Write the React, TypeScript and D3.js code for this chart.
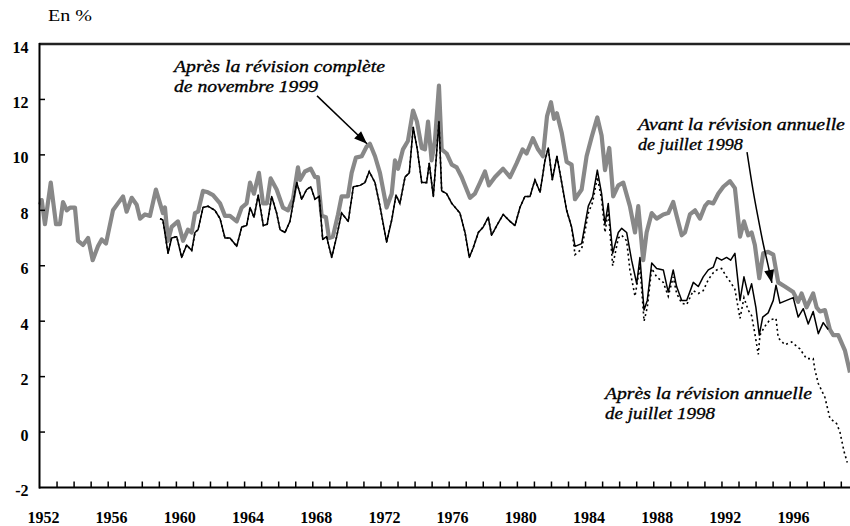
import React from 'react';
import * as d3 from 'd3';

type Pt = [number, number];

const yTickValues = [-2, 0, 2, 4, 6, 8, 10, 12, 14];
const xLabelYears = [1952, 1956, 1960, 1964, 1968, 1972, 1976, 1980, 1984, 1988, 1992, 1996];

// Après la révision complète de novembre 1999 (gray)
const completeRevision: Pt[] = [
  [1951.80,8.2],[1951.90,8.37],[1952.09,7.5],[1952.43,9.0],[1952.74,7.5],[1952.97,7.5],[1953.15,8.3],[1953.37,8.0],[1953.56,8.1],[1953.85,8.1],
  [1954.03,6.9],[1954.32,6.75],[1954.62,7.0],[1954.89,6.2],[1955.20,6.7],[1955.42,6.95],[1955.67,6.8],[1956.08,8.0],[1956.37,8.25],[1956.67,8.5],
  [1956.88,7.95],[1957.18,8.45],[1957.47,8.2],[1957.67,7.7],[1957.96,7.85],[1958.25,7.8],[1958.60,8.75],[1958.84,8.25],[1959.01,7.9],[1959.13,8.1],
  [1959.31,6.9],[1959.52,7.4],[1959.89,7.6],[1960.19,6.9],[1960.48,7.3],[1960.70,7.2],[1960.89,7.9],[1961.07,7.95],[1961.36,8.7],[1961.65,8.65],
  [1961.95,8.55],[1962.36,8.25],[1962.65,7.8],[1962.94,7.8],[1963.34,7.6],[1963.63,8.1],[1963.92,8.25],[1964.12,9.0],[1964.35,8.6],[1964.64,9.35],
  [1964.88,8.25],[1965.11,8.25],[1965.33,9.15],[1965.68,8.75],[1966.05,8.1],[1966.35,8.0],[1966.64,8.4],[1966.93,9.55],[1967.05,9.1],[1967.34,9.4],
  [1967.68,9.5],[1967.93,9.2],[1968.10,9.2],[1968.32,7.8],[1968.57,7.75],[1968.75,7.0],[1968.98,7.05],[1969.28,7.85],[1969.49,8.5],[1969.86,8.5],
  [1970.08,9.35],[1970.33,9.9],[1970.67,9.95],[1970.96,10.3],[1971.15,10.4],[1971.45,9.95],[1971.74,9.35],[1972.13,8.1],[1972.43,8.6],[1972.62,9.8],
  [1972.80,9.5],[1973.09,10.2],[1973.38,10.5],[1973.68,11.6],[1973.91,11.2],[1974.19,10.25],[1974.38,10.2],[1974.56,11.2],[1974.77,9.8],[1974.97,10.55],
  [1975.20,12.5],[1975.36,10.2],[1975.65,10.05],[1975.95,9.65],[1976.24,9.55],[1976.53,9.2],[1977.02,8.45],[1977.31,8.6],[1977.61,9.0],[1977.90,9.4],
  [1978.13,8.9],[1978.49,9.2],[1978.96,9.5],[1979.37,9.2],[1979.76,9.7],[1980.11,10.2],[1980.34,10.05],[1980.71,10.6],[1981.01,10.2],[1981.30,9.95],
  [1981.54,11.4],[1981.77,11.9],[1981.95,11.3],[1982.12,11.5],[1982.40,10.8],[1982.69,9.75],[1982.98,9.65],[1983.18,8.4],[1983.57,8.75],[1983.86,9.95],
  [1984.16,10.65],[1984.49,11.35],[1984.74,10.7],[1984.94,9.45],[1985.19,10.25],[1985.42,8.5],[1985.72,8.9],[1986.01,9.0],[1986.40,8.15],[1986.70,7.2],
  [1986.89,8.15],[1987.18,6.2],[1987.38,7.2],[1987.68,7.9],[1987.97,7.7],[1988.36,7.85],[1988.65,7.9],[1988.94,8.3],[1989.14,7.8],[1989.44,7.1],
  [1989.63,7.2],[1989.92,7.85],[1990.22,8.0],[1990.51,7.7],[1990.80,8.15],[1991.00,8.3],[1991.29,8.25],[1991.58,8.6],[1991.88,8.85],[1992.27,9.05],
  [1992.56,8.8],[1992.86,7.05],[1993.09,7.6],[1993.34,7.1],[1993.54,7.2],[1993.73,6.75],[1993.99,5.55],[1994.22,6.45],[1994.51,6.5],[1994.81,6.4],
  [1995.10,5.4],[1995.49,5.25],[1995.98,5.05],[1996.27,4.7],[1996.47,5.0],[1996.76,4.5],[1997.15,5.0],[1997.35,4.5],[1997.55,4.35],[1997.84,4.4],
  [1998.13,3.7],[1998.33,3.5],[1998.62,3.5],[1999.01,2.95],[1999.31,2.15],
];

// Avant la révision annuelle de juillet 1998 (solid black)
const beforeAnnual: Pt[] = [
  [1958.84,7.7],[1959.01,7.65],[1959.31,6.45],[1959.52,7.0],[1959.82,7.05],[1960.11,6.3],[1960.40,6.75],[1960.70,6.55],[1960.89,7.2],[1961.07,7.3],
  [1961.36,8.1],[1961.65,8.15],[1962.06,8.0],[1962.36,7.7],[1962.65,7.0],[1962.94,7.0],[1963.34,6.7],[1963.63,7.4],[1963.92,7.45],[1964.12,8.1],
  [1964.35,7.75],[1964.60,8.55],[1964.90,7.45],[1965.13,7.5],[1965.39,8.5],[1965.68,7.9],[1965.88,7.3],[1966.17,7.2],[1966.46,7.6],[1966.86,9.0],
  [1967.15,8.4],[1967.44,8.75],[1967.68,8.85],[1967.93,8.4],[1968.18,8.5],[1968.38,6.95],[1968.61,7.05],[1968.91,6.3],[1969.20,7.05],[1969.49,7.9],
  [1969.88,7.6],[1970.18,8.85],[1970.57,8.9],[1970.86,9.0],[1971.11,9.4],[1971.45,9.0],[1971.74,8.15],[1972.13,6.85],[1972.43,7.65],[1972.68,8.55],
  [1972.91,8.25],[1973.21,9.2],[1973.46,9.35],[1973.69,11.0],[1973.93,10.2],[1974.19,9.0],[1974.48,9.0],[1974.63,9.7],[1974.87,8.5],[1975.20,11.2],
  [1975.36,8.7],[1975.65,8.6],[1975.95,8.25],[1976.43,7.9],[1976.73,7.2],[1976.98,6.3],[1977.21,6.65],[1977.51,7.2],[1977.80,7.4],[1978.09,7.75],
  [1978.29,7.1],[1978.59,7.45],[1978.97,7.85],[1979.37,7.6],[1979.66,7.45],[1979.95,8.1],[1980.24,8.5],[1980.54,8.5],[1980.83,9.1],[1981.13,8.65],
  [1981.42,9.8],[1981.61,10.25],[1981.85,9.1],[1982.12,9.95],[1982.40,9.0],[1982.69,8.0],[1982.98,7.4],[1983.18,6.7],[1983.57,6.8],[1983.96,8.15],
  [1984.22,8.5],[1984.49,9.45],[1984.74,8.6],[1984.94,7.5],[1985.13,8.25],[1985.39,6.45],[1985.72,7.2],[1985.92,7.35],[1986.21,7.2],[1986.50,6.2],
  [1986.80,5.35],[1986.99,6.3],[1987.23,4.4],[1987.42,4.75],[1987.68,6.1],[1987.97,5.9],[1988.36,5.85],[1988.65,5.05],[1988.94,5.85],[1989.14,5.25],
  [1989.44,4.75],[1989.73,4.75],[1990.12,5.4],[1990.41,5.25],[1990.70,5.6],[1991.00,5.85],[1991.29,5.95],[1991.49,6.3],[1991.78,6.2],[1992.07,6.3],
  [1992.31,6.2],[1992.56,6.45],[1992.86,4.75],[1993.09,5.6],[1993.34,4.95],[1993.54,5.35],[1993.79,4.5],[1993.99,3.5],[1994.19,4.15],[1994.51,4.3],
  [1994.81,4.75],[1994.97,5.3],[1995.20,4.65],[1995.59,4.75],[1995.98,4.85],[1996.27,4.15],[1996.57,4.45],[1996.86,3.9],[1997.15,4.35],[1997.45,3.55],
  [1997.74,3.95],[1998.03,3.7],
];

// Après la révision annuelle de juillet 1998 (dotted black)
const afterAnnual: Pt[] = [
  [1958.84,7.7],[1959.01,7.65],[1959.31,6.45],[1959.52,7.0],[1959.82,7.05],[1960.11,6.3],[1960.40,6.75],[1960.70,6.55],[1960.89,7.2],[1961.07,7.3],
  [1961.36,8.1],[1961.65,8.15],[1962.06,8.0],[1962.36,7.7],[1962.65,7.0],[1962.94,7.0],[1963.34,6.7],[1963.63,7.4],[1963.92,7.45],[1964.12,8.1],
  [1964.35,7.75],[1964.60,8.55],[1964.90,7.45],[1965.13,7.5],[1965.39,8.5],[1965.68,7.9],[1965.88,7.3],[1966.17,7.2],[1966.46,7.6],[1966.86,9.0],
  [1967.15,8.4],[1967.44,8.75],[1967.68,8.85],[1967.93,8.4],[1968.18,8.5],[1968.38,6.95],[1968.61,7.05],[1968.91,6.3],[1969.20,7.05],[1969.49,7.9],
  [1969.88,7.6],[1970.18,8.85],[1970.57,8.9],[1970.86,9.0],[1971.11,9.4],[1971.45,9.0],[1971.74,8.15],[1972.13,6.85],[1972.43,7.65],[1972.68,8.55],
  [1972.91,8.25],[1973.21,9.2],[1973.46,9.35],[1973.69,11.0],[1973.93,10.2],[1974.19,9.0],[1974.48,9.0],[1974.63,9.7],[1974.87,8.5],[1975.20,11.2],
  [1975.36,8.7],[1975.65,8.6],[1975.95,8.25],[1976.43,7.9],[1976.73,7.2],[1976.98,6.3],[1977.21,6.65],[1977.51,7.2],[1977.80,7.4],[1978.09,7.75],
  [1978.29,7.1],[1978.59,7.45],[1978.97,7.85],[1979.37,7.6],[1979.66,7.45],[1979.95,8.1],[1980.24,8.5],[1980.54,8.5],[1980.83,9.1],[1981.13,8.65],
  [1981.42,9.8],[1981.61,10.25],[1981.85,9.1],[1982.12,9.95],[1982.40,9.0],[1982.69,8.0],[1982.98,7.4],[1983.18,6.4],[1983.57,6.6],[1983.96,7.9],
  [1984.22,8.3],[1984.49,9.2],[1984.74,8.4],[1984.94,7.2],[1985.13,8.0],[1985.39,6.0],[1985.72,7.0],[1985.92,7.1],[1986.21,6.9],[1986.40,5.85],
  [1986.70,4.9],[1986.99,6.0],[1987.23,4.0],[1987.42,4.5],[1987.68,5.9],[1987.97,5.6],[1988.36,5.4],[1988.65,4.9],[1988.94,5.6],[1989.14,5.0],
  [1989.44,4.65],[1989.73,4.6],[1990.12,5.1],[1990.41,5.0],[1990.70,5.1],[1991.00,5.5],[1991.29,5.75],[1991.49,5.85],[1991.78,5.9],[1992.07,5.6],
  [1992.31,5.4],[1992.56,5.15],[1992.86,4.1],[1993.09,4.85],[1993.34,4.4],[1993.54,4.2],[1993.73,3.55],[1993.93,2.8],[1994.03,3.5],[1994.30,3.8],
  [1994.61,4.05],[1994.97,4.1],[1995.10,3.4],[1995.49,3.15],[1995.89,3.25],[1996.37,3.0],[1996.76,2.65],[1997.15,2.65],[1997.25,2.25],[1997.45,1.75],
  [1997.84,1.25],[1998.13,0.5],[1998.53,0.3],[1998.72,0.0],[1998.96,-0.7],[1999.15,-1.1],
];

// Annotations (anchor in data coordinates: [year, %])
const labelComplete = { at: [1959.66, 13.0] as Pt, lines: ['Après la révision complète', 'de novembre 1999'], widths: [211, 144] };
const labelBefore = { at: [1986.87, 10.88] as Pt, lines: ['Avant la révision annuelle', 'de juillet 1998'], widths: [207, 105] };
const labelAfter = { at: [1984.94, 1.19] as Pt, lines: ['Après la révision annuelle', 'de juillet 1998'], widths: [207, 110] };
const arrowComplete: Pt[] = [[1968.05, 12.13], [1970.98, 10.4]];
const arrowBefore: Pt[] = [[1993.27, 10.1], [1993.62, 8.74], [1993.91, 7.76], [1994.21, 6.82], [1994.50, 6.03], [1994.73, 5.38]];

const W = 850;
const H = 526;
const serif = "'Liberation Serif', 'Times New Roman', serif";

export default function App() {
  const x = d3.scaleLinear().domain([1951.8, 1999.31]).range([40, 850]);
  const y = d3.scaleLinear().domain([-2, 14]).range([487.5, 44]);
  const line = d3.line<Pt>().x(d => x(d[0])).y(d => y(d[1]));
  const curve = d3.line<Pt>().x(d => x(d[0])).y(d => y(d[1])).curve(d3.curveCatmullRom);

  const xTickYears = d3.range(1, 48).map(k => 1951.8 + k);

  const arrowHead = (pts: Pt[], len: number, half: number) => {
    const a = pts[pts.length - 2];
    const b = pts[pts.length - 1];
    const x1 = x(a[0]), y1 = y(a[1]), x2 = x(b[0]), y2 = y(b[1]);
    const dx = x2 - x1, dy = y2 - y1;
    const L = Math.hypot(dx, dy);
    const ux = dx / L, uy = dy / L;
    const bx = x2 - ux * len, by = y2 - uy * len;
    return `M${x2},${y2}L${bx - uy * half},${by + ux * half}L${bx + uy * half},${by - ux * half}Z`;
  };

  const renderLabel = (lab: { at: Pt; lines: string[]; widths: number[] }) => (
    <g>
      {lab.lines.map((l, i) => (
        <text key={i} x={x(lab.at[0])} y={y(lab.at[1]) + i * 20} fontFamily={serif} fontStyle="italic"
          fontSize={17.5} fill="#000" stroke="#000" strokeWidth={0.35}
          textLength={lab.widths[i]} lengthAdjust="spacingAndGlyphs">{l}</text>
      ))}
    </g>
  );

  return (
    <svg width={W} height={H} style={{ position: 'absolute', left: 0, top: 0, background: '#fff' }}>
      <rect x={0} y={0} width={W} height={H} fill="#fff" />
      <text x={48} y={21} fontFamily={serif} fontSize={16} fill="#000" textLength={44} lengthAdjust="spacingAndGlyphs">En %</text>

      {/* series */}
      <path d={line(completeRevision) || ''} fill="none" stroke="#888888" strokeWidth={4.2} strokeLinejoin="round" />
      <path d={line(afterAnnual) || ''} fill="none" stroke="#000" strokeWidth={1.6} strokeDasharray="2 3" />
      <path d={line(beforeAnnual) || ''} fill="none" stroke="#000" strokeWidth={1.5} strokeLinejoin="round" />

      {/* frame */}
      <line x1={39} x2={850} y1={y(14)} y2={y(14)} stroke="#222" strokeWidth={2.5} />
      <line x1={39.5} x2={39.5} y1={y(14) - 1} y2={y(-2) + 1} stroke="#000" strokeWidth={2} />
      <line x1={39} x2={850} y1={y(-2)} y2={y(-2)} stroke="#000" strokeWidth={2} />

      {yTickValues.filter(v => v > -2 && v < 14).map(v => (
        <line key={v} x1={40} x2={45} y1={y(v)} y2={y(v)} stroke="#000" strokeWidth={1.5} />
      ))}
      {xTickYears.map(t => (
        <line key={t} x1={x(t)} x2={x(t)} y1={y(-2)} y2={y(-2) - 6} stroke="#000" strokeWidth={1.5} />
      ))}

      {yTickValues.map(v => (
        <text key={v} x={28.5} y={y(v) + 8.5} textAnchor="end" fontFamily={serif} fontWeight="bold" fontSize={16} fill="#000">{v}</text>
      ))}
      {xLabelYears.map(yr => (
        <text key={yr} x={x(yr)} y={523} textAnchor="middle" fontFamily={serif} fontWeight="bold" fontSize={16} fill="#000">{yr}</text>
      ))}

      {/* annotations */}
      {renderLabel(labelComplete)}
      {renderLabel(labelBefore)}
      {renderLabel(labelAfter)}
      <path d={line(arrowComplete) || ''} fill="none" stroke="#000" strokeWidth={1.5} />
      <path d={arrowHead(arrowComplete, 13, 5)} fill="#000" />
      <path d={curve(arrowBefore) || ''} fill="none" stroke="#000" strokeWidth={1.5} />
      <path d={arrowHead(arrowBefore, 13, 5)} fill="#000" />
    </svg>
  );
}
